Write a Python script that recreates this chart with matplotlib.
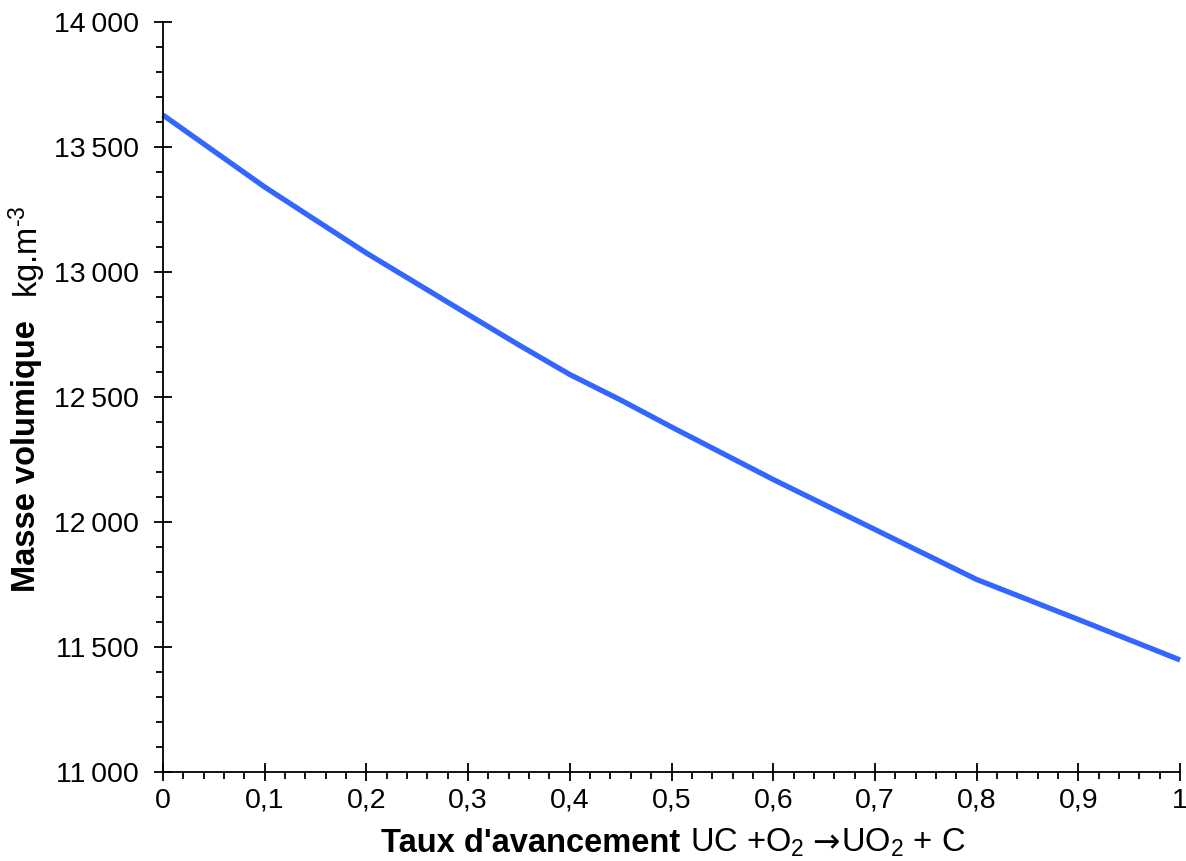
import numpy as np
import matplotlib
matplotlib.use("Agg")
import matplotlib.pyplot as plt
from matplotlib.ticker import MultipleLocator, FuncFormatter

plt.rcParams['font.family'] = ['Liberation Sans', 'DejaVu Sans']
plt.rcParams['mathtext.fontset'] = 'custom'
plt.rcParams['mathtext.rm'] = 'Liberation Sans'
plt.rcParams['mathtext.it'] = 'Liberation Sans'
plt.rcParams['mathtext.bf'] = 'Liberation Sans:bold'

# Data
taux = [0.0, 0.1, 0.2, 0.3, 0.35, 0.4, 0.45, 0.5, 0.6, 0.7, 0.8, 0.9, 1.0]
masse = [13628, 13340, 13076, 12830, 12708, 12590, 12488, 12380, 12170, 11970, 11770, 11610, 11448]

fig = plt.figure(figsize=(11.86, 8.61), dpi=100)
ax = fig.add_axes([0.1374, 0.1034, 0.8576, 0.871])

ax.plot(taux, masse, color='#3366ff', lw=3.8, solid_capstyle='butt', clip_on=False)

ax.set_xlim(0, 1)
ax.set_ylim(11000, 14000)
for s in ['top', 'right']:
    ax.spines[s].set_visible(False)
for s in ['left', 'bottom']:
    ax.spines[s].set_linewidth(1.3)

ax.xaxis.set_major_locator(MultipleLocator(0.1))
ax.xaxis.set_minor_locator(MultipleLocator(0.02))
ax.yaxis.set_major_locator(MultipleLocator(500))
ax.yaxis.set_minor_locator(MultipleLocator(100))

def fmt_x(v, pos):
    if abs(v) < 1e-9:
        return "0"
    if abs(v - 1) < 1e-9:
        return "1"
    return ("%.1f" % v).replace(".", ",")

def fmt_y(v, pos):
    s = "%d" % round(v)
    return s[:-3] + "\u2009" + s[-3:] if len(s) > 3 else s

ax.xaxis.set_major_formatter(FuncFormatter(fmt_x))
ax.yaxis.set_major_formatter(FuncFormatter(fmt_y))

ax.tick_params(which='major', direction='inout', length=13, width=1.3, labelsize=20.5, color='black')
ax.tick_params(which='minor', direction='out', length=5, width=1.3, color='black')
ax.tick_params(axis='x', which='major', pad=5)
ax.tick_params(axis='y', which='major', pad=11)

# axis titles: bold part + regular part (arrow drawn in DejaVu, it is longer)
fs = 23.5
ybase = 1 - 852 / 861
fig.text(680 / 1186, ybase, "Taux d'avancement", fontsize=fs, fontweight='bold',
         ha='right', va='baseline')
renderer = fig.canvas.get_renderer()
x0 = 690 / 1186
for txt, fam, gap in [("UC +O$_2$", 'Liberation Sans', 8),
                      ("\u2192", 'DejaVu Sans', 1),
                      ("UO$_2$ + C", 'Liberation Sans', 0)]:
    t = fig.text(x0, ybase, txt, fontsize=fs, family=fam, ha='left', va='baseline')
    bb = t.get_window_extent(renderer)
    x0 = (bb.x1 + gap) / 1186

fig.text(27 / 1186, 1 - 456 / 861, "Masse volumique", fontsize=fs, fontweight='bold',
         rotation=90, ha='center', va='center')
fig.text(27 / 1186, 1 - 252 / 861, "kg.m$^{\\text{-}3}$", fontsize=fs,
         rotation=90, ha='center', va='center')

fig.savefig("out.png", dpi=100)
